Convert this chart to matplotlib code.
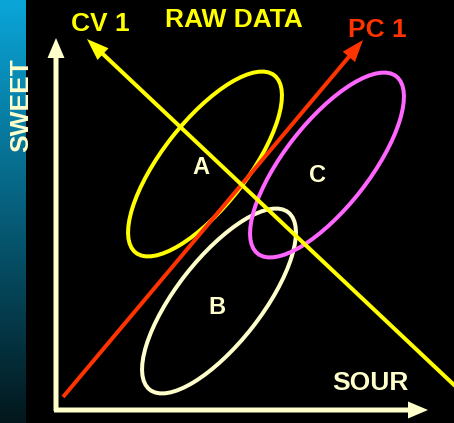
import numpy as np
import matplotlib
matplotlib.use('Agg')
import matplotlib.pyplot as plt
from matplotlib.patches import Ellipse, FancyArrow

# Diagram in pixel-like units (x right, y down), 454 x 423 canvas
W, H = 454, 423

group_names = ['A', 'B', 'C']
group_centers = [(205, 164), (219, 301), (327, 165)]
label_pos = [(201, 168), (217, 307), (318, 175)]
group_colors = ['#ffff00', '#ffffcc', '#ff66ff']
ellipse_len, ellipse_wid, ellipse_angle = 225, 85, -52

# axis arrows: (start, end)
axis_lines = [((56, 411), (56, 38)), ((54, 410), (428, 410))]
axis_color = '#ffffcc'

# direction lines
pc1 = ((63, 397), (363, 40))
cv1 = ((470, 400), (87, 39))

cream = '#ffffcc'
px = 72 / 100  # points per pixel

fig = plt.figure(figsize=(4.54, 4.23), dpi=100, facecolor='black')
ax = fig.add_axes([0, 0, 1, 1])
ax.set_facecolor('black')

# blue gradient strip on the left
top = np.array([0.04, 0.65, 0.85])
bot = np.array([0.01, 0.09, 0.11])
t = np.linspace(0, 1, 200)[:, None]
grad = (top * (1 - t) + bot * t)[:, None, :]
ax.imshow(grad, extent=[0, 26, H, 0], aspect='auto', zorder=1)

def arrow(p0, p1, color, lw, hw, hl, z=3):
    (x0, y0), (x1, y1) = p0, p1
    ax.add_patch(FancyArrow(x0, y0, x1 - x0, y1 - y0, width=lw, head_width=hw,
                            head_length=hl, length_includes_head=True,
                            color=color, lw=0, zorder=z))

for p0, p1 in axis_lines:
    arrow(p0, p1, axis_color, 5, 17, 20)

arrow(pc1[0], pc1[1], '#ff3300', 4, 16, 22, z=4)
arrow(cv1[0], cv1[1], '#ffff00', 4, 16, 22, z=5)

for (cx, cy), col in zip(group_centers, group_colors):
    ax.add_patch(Ellipse((cx, cy), ellipse_len, ellipse_wid, angle=ellipse_angle,
                         fill=False, edgecolor=col, lw=4 * px, zorder=3))
for name, (lx, ly) in zip(group_names, label_pos):
    ax.text(lx, ly, name, color=cream, fontsize=17, fontweight='bold',
            family='Liberation Sans', ha='center', va='center', zorder=6)

font = dict(family='Liberation Sans', fontweight='bold', fontsize=19)
ax.text(234, 20, 'RAW DATA', color='#ffff00', ha='center', va='center', **font)
ax.text(100, 24, 'CV 1', color='#ffff00', ha='center', va='center', **font)
ax.text(377, 30, 'PC 1', color='#ff3300', ha='center', va='center', **font)
ax.text(370, 383, 'SOUR', color=cream, ha='center', va='center', **font)
ax.text(21, 105, 'SWEET', color=cream, rotation=90, ha='center', va='center', **font)

ax.set_xlim(0, W)
ax.set_ylim(H, 0)
ax.axis('off')
fig.savefig('out.png', dpi=100, facecolor='black')
